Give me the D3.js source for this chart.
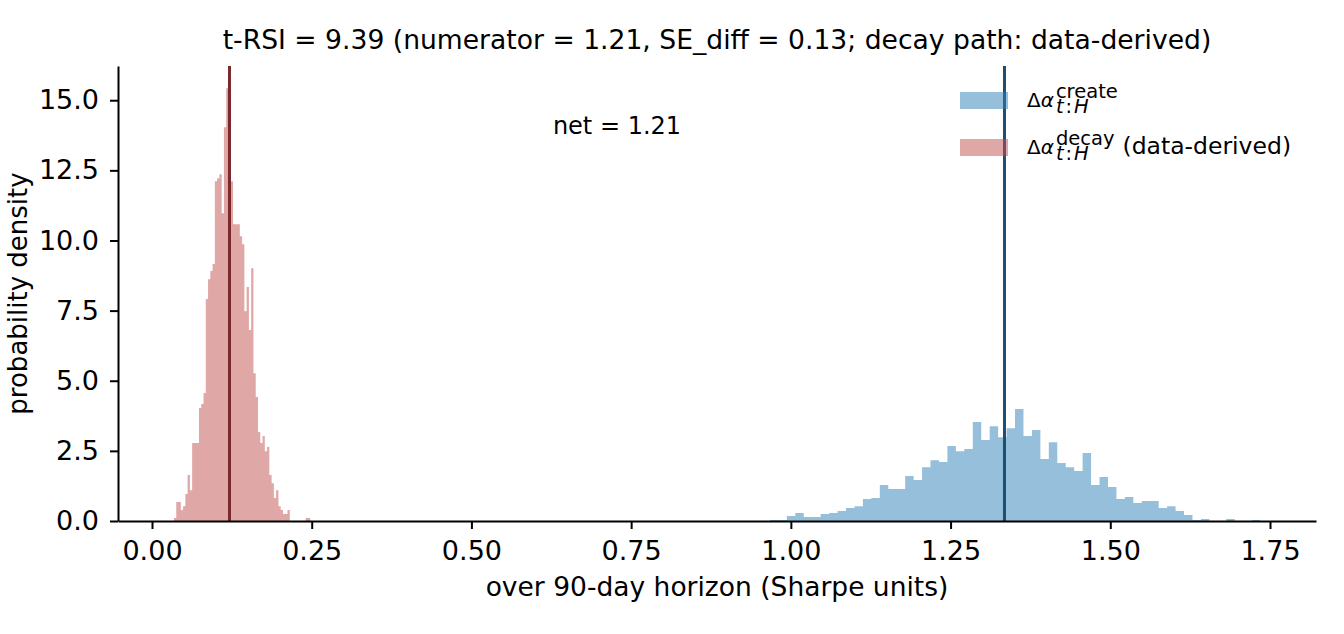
<!DOCTYPE html>
<html>
<head>
<meta charset="utf-8">
<script src="https://cdn.jsdelivr.net/npm/d3@7/dist/d3.min.js"></script>
<style>
  body { margin: 0; background: #fff; }
  svg text { font-family: "DejaVu Sans", sans-serif; fill: #000; }
</style>
</head>
<body>
<div id="chart"></div>
<script>
// creation path histogram (density, Sharpe units)
const createStart = 0.9673;
const createBinWidth = 0.013227;
const createDensity = [
  0.036, 0.036, 0.18, 0.285, 0.14, 0.14, 0.25, 0.285, 0.356, 0.46,
  0.53, 0.78, 0.82, 1.28, 1.14, 1.14, 1.6, 1.46, 1.92, 2.17,
  2.1, 2.67, 2.49, 2.57, 3.53, 2.89, 3.38, 2.99, 3.31, 3.99,
  3.03, 3.24, 2.21, 2.81, 2.07, 1.92, 1.78, 2.42, 1.28, 1.57,
  1.21, 0.78, 0.855, 0.64, 0.71, 0.71, 0.46, 0.53, 0.356, 0.21,
  0.036, 0.07, 0, 0, 0.07, 0, 0, 0.036
];

// decay path histogram (data-derived)
const decayStart = 0.03444;
const decayBinWidth = 0.003553;
const decayDensity = [
  0.107, 0.68, 0.68, 0.39, 0.53, 0.96, 1.64, 1.1, 2.78, 2.78,
  2.78, 4.03, 4.17, 4.56, 7.91, 8.62, 8.91, 9.16, 12.11, 12.22,
  12.36, 10.97, 14.04, 15.43, 14.5, 12.11, 10.58, 10.58, 10.58, 10.15,
  9.87, 7.48, 8.34, 6.81, 9.01, 5.27, 4.42, 3.17, 2.78, 3.03,
  2.49, 2.64, 1.64, 1.35, 0.82, 1.1, 0.53, 0.39, 0.25, 0.25,
  0.39, 0, 0, 0, 0, 0, 0, 0, 0.107, 0.107
];

const createMean = 1.3344;
const decayMean = 0.1213;
const netValue = 1.21;

const xTicks = [0, 0.25, 0.5, 0.75, 1.0, 1.25, 1.5, 1.75];
const yTicks = [0, 2.5, 5, 7.5, 10, 12.5, 15];

const titleText = "t-RSI = 9.39 (numerator = 1.21, SE_diff = 0.13; decay path: data-derived)";
const xLabel = "over 90-day horizon (Sharpe units)";
const yLabel = "probability density";

const createColor = "#2b80b8";
const decayColor = "#c0504d";
const createLine = "#1f4e74";
const decayLine = "#7a2a2c";

const margin = { top: 66, right: 28, bottom: 113, left: 118 };
const width = 1344 - margin.left - margin.right;
const height = 634 - margin.top - margin.bottom;

const svg = d3
  .select("#chart")
  .append("svg")
  .attr("width", width + margin.left + margin.right)
  .attr("height", height + margin.top + margin.bottom);

const g = svg
  .append("g")
  .attr("transform", `translate(${margin.left},${margin.top})`);

const x = d3.scaleLinear().domain([-0.05322, 1.822]).range([0, width]);
const y = d3.scaleLinear().domain([0, 16.22]).range([height, 0]);

// turn density arrays into step points
const toBins = (start, w, dens) => {
  const pts = dens.map((d, i) => ({ x: start + i * w, d }));
  pts.push({ x: start + dens.length * w, d: dens[dens.length - 1] });
  return pts;
};

const area = d3
  .area()
  .curve(d3.curveStepAfter)
  .x((p) => x(p.x))
  .y0(y(0))
  .y1((p) => y(p.d));

g.append("path")
  .datum(toBins(createStart, createBinWidth, createDensity))
  .attr("d", area)
  .attr("fill", createColor)
  .attr("fill-opacity", 0.5);

g.append("path")
  .datum(toBins(decayStart, decayBinWidth, decayDensity))
  .attr("d", area)
  .attr("fill", decayColor)
  .attr("fill-opacity", 0.5);

// mean lines
[
  { v: createMean, c: createLine },
  { v: decayMean, c: decayLine },
].forEach((m) => {
  g.append("line")
    .attr("x1", x(m.v))
    .attr("x2", x(m.v))
    .attr("y1", 0)
    .attr("y2", height)
    .attr("stroke", m.c)
    .attr("stroke-width", 3);
});

// net label between the means
g.append("text")
  .attr("x", x((createMean + decayMean) / 2))
  .attr("y", y(13.8))
  .attr("text-anchor", "middle")
  .style("font-size", "24px")
  .text(`net = ${netValue.toFixed(2)}`);

// X axis
const xAxis = g
  .append("g")
  .attr("transform", `translate(0,${height})`)
  .call(
    d3.axisBottom(x)
      .tickValues(xTicks)
      .tickFormat(d3.format(".2f"))
      .tickSize(8)
      .tickSizeOuter(0)
      .tickPadding(12)
  );

// Y axis
const yAxis = g
  .append("g")
  .call(
    d3.axisLeft(y)
      .tickValues(yTicks)
      .tickFormat(d3.format(".1f"))
      .tickSize(8)
      .tickSizeOuter(0)
      .tickPadding(11)
  );

[xAxis, yAxis].forEach((a) => {
  a.attr("font-family", null).attr("font-size", null);
  a.selectAll("text").style("font-size", "27px");
  a.selectAll("line").attr("stroke-width", 2);
  a.select(".domain").attr("stroke-width", 2);
});

// title
svg.append("text")
  .attr("x", margin.left + width / 2)
  .attr("y", 49)
  .attr("text-anchor", "middle")
  .style("font-size", "26.6px")
  .text(titleText);

// axis labels
svg.append("text")
  .attr("x", margin.left + width / 2)
  .attr("y", 596)
  .attr("text-anchor", "middle")
  .style("font-size", "26.5px")
  .text(xLabel);

svg.append("text")
  .attr("transform", "rotate(-90)")
  .attr("x", -(margin.top + height / 2))
  .attr("y", 27)
  .attr("text-anchor", "middle")
  .style("font-size", "26px")
  .text(yLabel);

// legend
const legend = svg.append("g");

// width of a text run, measured off-screen
const measure = (str, size, italic) => {
  const t = svg.append("text")
    .style("font-size", size + "px")
    .style("font-style", italic ? "italic" : "normal")
    .text(str);
  const w = t.node().getComputedTextLength();
  t.remove();
  return w;
};

const supSize = 19.5;

const mathLabel = (lx, ly, sup, extra) => {
  const t = legend.append("text")
    .attr("x", lx)
    .attr("y", ly)
    .style("font-size", "20px");
  t.append("tspan").text("Δ");
  t.append("tspan").style("font-style", "italic").text("α");
  const supW = measure(sup, supSize, false);
  const subW = measure("t", supSize, true) + measure(":", supSize, false) +
    measure("H", supSize, true) + 4;
  t.append("tspan")
    .attr("dx", 2)
    .attr("dy", -9.5)
    .style("font-size", supSize + "px")
    .text(sup);
  t.append("tspan")
    .attr("dx", -supW)
    .attr("dy", 15.5)
    .style("font-size", supSize + "px")
    .style("font-style", "italic")
    .text("t");
  t.append("tspan")
    .attr("dx", 2)
    .style("font-size", supSize + "px")
    .text(":");
  t.append("tspan")
    .attr("dx", 2)
    .style("font-size", supSize + "px")
    .style("font-style", "italic")
    .text("H");
  if (extra) {
    t.append("tspan")
      .attr("dx", Math.max(supW - subW, 0) + 8)
      .attr("dy", -6)
      .style("font-size", "23.5px")
      .text(extra);
  }
};

const legendItems = [
  { c: createColor, sup: "create", extra: "" },
  { c: decayColor, sup: "decay", extra: "(data-derived)" },
];

legendItems.forEach((it, i) => {
  const top = 92 + i * 47;
  legend.append("rect")
    .attr("x", 960)
    .attr("y", top)
    .attr("width", 48)
    .attr("height", 17)
    .attr("fill", it.c)
    .attr("fill-opacity", 0.5);
  mathLabel(1027, top + 15, it.sup, it.extra);
});
</script>
</body>
</html>
